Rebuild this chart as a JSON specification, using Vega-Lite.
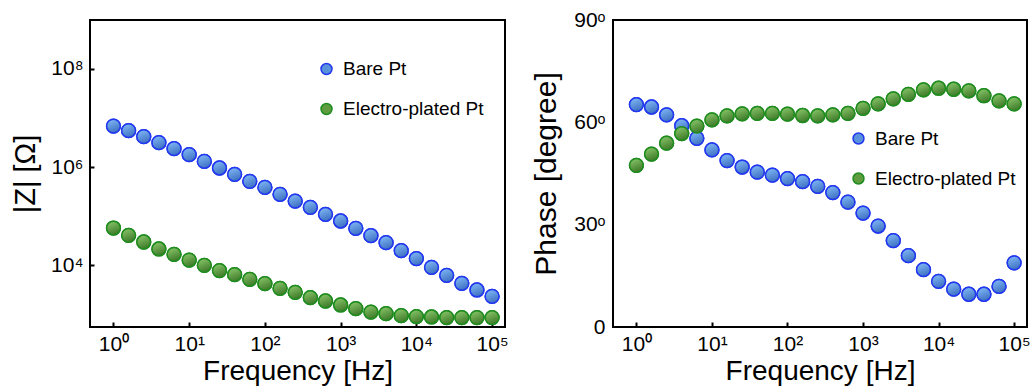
{
  "$schema": "https://vega.github.io/schema/vega-lite/v6.json",
  "padding": {"left": 10, "top": 8, "right": 0, "bottom": 0},
  "background": "white",
  "config": {
    "font": "Liberation Sans",
    "view": {"stroke": "black", "strokeWidth": 2},
    "axis": {
      "labelFont": "Liberation Sans", "labelFontSize": 21, "labelColor": "black",
      "titleFont": "Liberation Sans", "titleFontWeight": "normal", "titleColor": "black",
      "domain": false, "grid": false, "tickColor": "black", "tickWidth": 2
    },
    "legend": {
      "labelFont": "Liberation Sans", "labelFontSize": 19, "labelColor": "black",
      "padding": 0, "rowPadding": 20, "symbolSize": 120, "symbolStrokeWidth": 1.5,
      "labelOffset": 7, "title": null, "orient": "none"
    }
  },
  "datasets": {
    "eis": [
      {"freq": 1, "series": "Bare Pt", "z": 6820000, "phase": 65.2},
      {"freq": 1.585, "series": "Bare Pt", "z": 5480000, "phase": 64.5},
      {"freq": 2.512, "series": "Bare Pt", "z": 4140000, "phase": 62.2},
      {"freq": 3.981, "series": "Bare Pt", "z": 3130000, "phase": 59.0},
      {"freq": 6.31, "series": "Bare Pt", "z": 2360000, "phase": 55.3},
      {"freq": 10, "series": "Bare Pt", "z": 1780000, "phase": 51.9},
      {"freq": 15.85, "series": "Bare Pt", "z": 1300000, "phase": 48.8},
      {"freq": 25.12, "series": "Bare Pt", "z": 955000, "phase": 46.9},
      {"freq": 39.81, "series": "Bare Pt", "z": 710000, "phase": 45.4},
      {"freq": 63.1, "series": "Bare Pt", "z": 511000, "phase": 44.5},
      {"freq": 100, "series": "Bare Pt", "z": 385000, "phase": 43.5},
      {"freq": 158.5, "series": "Bare Pt", "z": 278000, "phase": 42.6},
      {"freq": 251.2, "series": "Bare Pt", "z": 203000, "phase": 41.2},
      {"freq": 398.1, "series": "Bare Pt", "z": 151000, "phase": 39.4},
      {"freq": 631, "series": "Bare Pt", "z": 109000, "phase": 36.6},
      {"freq": 1000, "series": "Bare Pt", "z": 79800, "phase": 33.4},
      {"freq": 1585, "series": "Bare Pt", "z": 56600, "phase": 29.6},
      {"freq": 2512, "series": "Bare Pt", "z": 40100, "phase": 25.3},
      {"freq": 3981, "series": "Bare Pt", "z": 28900, "phase": 20.9},
      {"freq": 6310, "series": "Bare Pt", "z": 19900, "phase": 16.8},
      {"freq": 10000, "series": "Bare Pt", "z": 13700, "phase": 13.4},
      {"freq": 15850, "series": "Bare Pt", "z": 9100, "phase": 11.1},
      {"freq": 25120, "series": "Bare Pt", "z": 6270, "phase": 9.6},
      {"freq": 39810, "series": "Bare Pt", "z": 4310, "phase": 9.6},
      {"freq": 63100, "series": "Bare Pt", "z": 3150, "phase": 11.9},
      {"freq": 100000, "series": "Bare Pt", "z": 2340, "phase": 18.8},
      {"freq": 1, "series": "Electro-plated Pt", "z": 57400, "phase": 47.4},
      {"freq": 1.585, "series": "Electro-plated Pt", "z": 40700, "phase": 50.7},
      {"freq": 2.512, "series": "Electro-plated Pt", "z": 29800, "phase": 53.9},
      {"freq": 3.981, "series": "Electro-plated Pt", "z": 21500, "phase": 56.7},
      {"freq": 6.31, "series": "Electro-plated Pt", "z": 16700, "phase": 58.9},
      {"freq": 10, "series": "Electro-plated Pt", "z": 12800, "phase": 60.7},
      {"freq": 15.85, "series": "Electro-plated Pt", "z": 10000, "phase": 61.9},
      {"freq": 25.12, "series": "Electro-plated Pt", "z": 7800, "phase": 62.5},
      {"freq": 39.81, "series": "Electro-plated Pt", "z": 6460, "phase": 62.6},
      {"freq": 63.1, "series": "Electro-plated Pt", "z": 5190, "phase": 62.6},
      {"freq": 100, "series": "Electro-plated Pt", "z": 4240, "phase": 62.4},
      {"freq": 158.5, "series": "Electro-plated Pt", "z": 3400, "phase": 62.0},
      {"freq": 251.2, "series": "Electro-plated Pt", "z": 2820, "phase": 61.9},
      {"freq": 398.1, "series": "Electro-plated Pt", "z": 2200, "phase": 62.2},
      {"freq": 631, "series": "Electro-plated Pt", "z": 1880, "phase": 62.6},
      {"freq": 1000, "series": "Electro-plated Pt", "z": 1560, "phase": 64.1},
      {"freq": 1585, "series": "Electro-plated Pt", "z": 1310, "phase": 65.4},
      {"freq": 2512, "series": "Electro-plated Pt", "z": 1120, "phase": 66.9},
      {"freq": 3981, "series": "Electro-plated Pt", "z": 1040, "phase": 68.2},
      {"freq": 6310, "series": "Electro-plated Pt", "z": 947, "phase": 69.5},
      {"freq": 10000, "series": "Electro-plated Pt", "z": 904, "phase": 70.0},
      {"freq": 15850, "series": "Electro-plated Pt", "z": 889, "phase": 69.7},
      {"freq": 25120, "series": "Electro-plated Pt", "z": 863, "phase": 69.2},
      {"freq": 39810, "series": "Electro-plated Pt", "z": 863, "phase": 67.8},
      {"freq": 63100, "series": "Electro-plated Pt", "z": 863, "phase": 66.3},
      {"freq": 100000, "series": "Electro-plated Pt", "z": 863, "phase": 65.4}
    ]
  },
  "hconcat": [
    {
      "width": 415, "height": 307,
      "data": {"name": "eis"},
      "encoding": {
        "x": {
          "field": "freq", "type": "quantitative",
          "scale": {"type": "log", "domain": [0.49, 148000], "nice": false},
          "axis": {
            "values": [1, 10, 100, 1000, 10000, 100000],
            "labelExpr": "'10' + ['⁰','¹','²','³','⁴','⁵','⁶','⁷','⁸','⁹'][round(log(datum.value)/LN10)]",
            "title": "Frequency [Hz]", "titleFontSize": 28, "titlePadding": 3,
            "tickSize": -5, "labelPadding": 11, "labelFlush": false
          }
        },
        "y": {
          "field": "z", "type": "quantitative",
          "scale": {"type": "log", "domain": [556, 980000000], "nice": false},
          "axis": {
            "values": [10000, 1000000, 100000000],
            "labelExpr": "'10' + ['⁰','¹','²','³','⁴','⁵','⁶','⁷','⁸','⁹'][round(log(datum.value)/LN10)]",
            "title": "|Z| [Ω]", "titleFontSize": 29, "titlePadding": 10,
            "tickSize": -4, "labelPadding": 11
          }
        }
      },
      "layer": [
        {
          "mark": {"type": "point", "filled": true, "opacity": 1, "size": 190, "strokeWidth": 1.5},
          "encoding": {
            "fill": {
              "field": "series", "type": "nominal",
              "scale": {"domain": ["Bare Pt", "Electro-plated Pt"], "range": ["#5a92dc", "#5f9c40"]},
              "legend": {"legendX": 227, "legendY": 39.5,
                "encode": {"symbols": {"update": {"fill": {"signal": "datum.value === 'Bare Pt' ? {gradient: 'linear', x1: 0.3, y1: 0, x2: 0.7, y2: 1, stops: [{offset: 0, color: '#80b8f4'}, {offset: 1, color: '#3a6cc0'}]} : {gradient: 'linear', x1: 0.3, y1: 0, x2: 0.7, y2: 1, stops: [{offset: 0, color: '#88c468'}, {offset: 1, color: '#3a7626'}]}"}}}}}
            },
            "stroke": {
              "field": "series", "type": "nominal",
              "scale": {"domain": ["Bare Pt", "Electro-plated Pt"], "range": ["#2238f0", "#1e8c1e"]},
              "legend": {"legendX": 227, "legendY": 39.5}
            }
          }
        },
        {
          "transform": [{"filter": "datum.series === 'Bare Pt'"}],
          "mark": {"type": "point", "filled": true, "opacity": 1, "size": 190, "strokeWidth": 1.5, "stroke": "#2238f0",
            "fill": {"gradient": "linear", "x1": 0.3, "y1": 0, "x2": 0.7, "y2": 1, "stops": [{"offset": 0, "color": "#80b8f4"}, {"offset": 1, "color": "#3a6cc0"}]}}
        },
        {
          "transform": [{"filter": "datum.series === 'Electro-plated Pt'"}],
          "mark": {"type": "point", "filled": true, "opacity": 1, "size": 190, "strokeWidth": 1.5, "stroke": "#1e8c1e",
            "fill": {"gradient": "linear", "x1": 0.3, "y1": 0, "x2": 0.7, "y2": 1, "stops": [{"offset": 0, "color": "#88c468"}, {"offset": 1, "color": "#3a7626"}]}}
        }
      ]
    },
    {
      "width": 414, "height": 307,
      "data": {"name": "eis"},
      "encoding": {
        "x": {
          "field": "freq", "type": "quantitative",
          "scale": {"type": "log", "domain": [0.49, 148000], "nice": false},
          "axis": {
            "values": [1, 10, 100, 1000, 10000, 100000],
            "labelExpr": "'10' + ['⁰','¹','²','³','⁴','⁵','⁶','⁷','⁸','⁹'][round(log(datum.value)/LN10)]",
            "title": "Frequency [Hz]", "titleFontSize": 28, "titlePadding": 3,
            "tickSize": -5, "labelPadding": 11, "labelFlush": false
          }
        },
        "y": {
          "field": "phase", "type": "quantitative",
          "scale": {"domain": [0, 90], "nice": false},
          "axis": {
            "values": [0, 30, 60, 90],
            "labelExpr": "datum.value == 0 ? '0' : datum.value + 'ᵒ'",
            "title": "Phase [degree]", "titleFontSize": 30, "titlePadding": 12,
            "ticks": false, "labelPadding": 8, "labelFlush": false
          }
        }
      },
      "layer": [
        {
          "mark": {"type": "point", "filled": true, "opacity": 1, "size": 190, "strokeWidth": 1.5},
          "encoding": {
            "fill": {
              "field": "series", "type": "nominal",
              "scale": {"domain": ["Bare Pt", "Electro-plated Pt"], "range": ["#5a92dc", "#5f9c40"]},
              "legend": {"legendX": 236, "legendY": 109,
                "encode": {"symbols": {"update": {"fill": {"signal": "datum.value === 'Bare Pt' ? {gradient: 'linear', x1: 0.3, y1: 0, x2: 0.7, y2: 1, stops: [{offset: 0, color: '#80b8f4'}, {offset: 1, color: '#3a6cc0'}]} : {gradient: 'linear', x1: 0.3, y1: 0, x2: 0.7, y2: 1, stops: [{offset: 0, color: '#88c468'}, {offset: 1, color: '#3a7626'}]}"}}}}}
            },
            "stroke": {
              "field": "series", "type": "nominal",
              "scale": {"domain": ["Bare Pt", "Electro-plated Pt"], "range": ["#2238f0", "#1e8c1e"]},
              "legend": {"legendX": 236, "legendY": 109}
            }
          }
        },
        {
          "transform": [{"filter": "datum.series === 'Bare Pt'"}],
          "mark": {"type": "point", "filled": true, "opacity": 1, "size": 190, "strokeWidth": 1.5, "stroke": "#2238f0",
            "fill": {"gradient": "linear", "x1": 0.3, "y1": 0, "x2": 0.7, "y2": 1, "stops": [{"offset": 0, "color": "#80b8f4"}, {"offset": 1, "color": "#3a6cc0"}]}}
        },
        {
          "transform": [{"filter": "datum.series === 'Electro-plated Pt'"}],
          "mark": {"type": "point", "filled": true, "opacity": 1, "size": 190, "strokeWidth": 1.5, "stroke": "#1e8c1e",
            "fill": {"gradient": "linear", "x1": 0.3, "y1": 0, "x2": 0.7, "y2": 1, "stops": [{"offset": 0, "color": "#88c468"}, {"offset": 1, "color": "#3a7626"}]}}
        }
      ]
    }
  ],
  "spacing": 108,
  "bounds": "flush",
  "resolve": {
    "scale": {"fill": "independent", "stroke": "independent", "x": "independent", "y": "independent"},
    "legend": {"fill": "independent", "stroke": "independent"}
  }
}
